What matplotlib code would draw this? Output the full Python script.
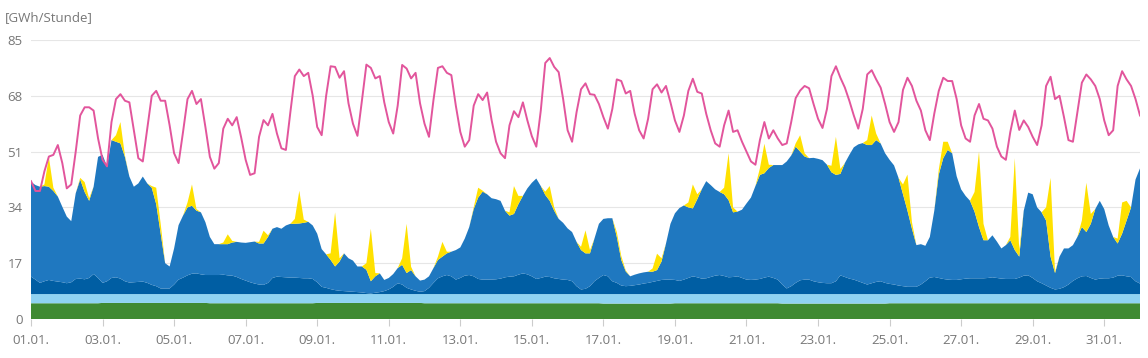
import numpy as np
import matplotlib.pyplot as plt

plt.rcParams['font.family'] = ['Open Sans', 'DejaVu Sans']

# 3-hourly values (00, 03, 06, ... 21 Uhr) for January, last value = 01.02. 00 Uhr
hours = np.arange(0, 745, 3)

verbrauch = [
    42, 39, 39, 45, 49.5, 50, 53, 47.5,          # 01.01.
    39.8, 41, 51, 62, 64.5, 64.5, 63.5, 55,
    48.5, 46.5, 60, 67, 68.5, 66.5, 66, 57.5,
    49, 48, 58, 68, 69.5, 66.5, 66.5, 59,
    50.5, 47.5, 57, 67, 69.5, 65.5, 67, 58.5,     # 05.01.
    49.4, 45.8, 47.5, 58, 61, 59, 61.5, 55.3,
    48.5, 43.9, 44.4, 55.5, 60.6, 59, 62.5, 56.5,
    52, 51.5, 63, 74, 76, 74, 75, 68,
    58.5, 56, 68, 77, 76.8, 73.5, 75.5, 65.7,
    59.5, 55.8, 66.5, 77.5, 76.5, 73.3, 74, 66,   # 10.01.
    60, 56.5, 65, 77.4, 76.3, 73.3, 75, 65.7,
    59.5, 55.5, 66.7, 76.5, 77, 75, 74.3, 65,
    57, 52.5, 54.5, 65, 68.5, 66.7, 69, 60.6,
    54, 50.5, 49, 59, 63.3, 61.5, 66, 60.5,
    55.7, 52.5, 63.5, 78, 79.5, 76.8, 75.2, 67,   # 15.01.
    57.5, 54, 63, 70, 71.8, 68.5, 68.3, 65.5,
    61.5, 58, 64, 73, 72.5, 68.7, 69.5, 62.5,
    57.5, 55, 61, 70, 71.5, 69, 71, 66,
    60.5, 57, 62, 69.5, 73.2, 69.2, 68.7, 62.5,
    57.5, 53.5, 52.5, 59, 63.5, 57, 57.5, 54,     # 20.01.
    51, 48, 47, 54.5, 60, 55, 57.5, 55,
    53, 53.5, 60, 67.3, 69.6, 71, 70.3, 65.5,
    61, 58.2, 64, 74, 77, 73.5, 70.5, 66.5,
    62, 58, 64, 74.5, 75.8, 73, 70.5, 65.5,
    60, 57, 60, 69.8, 73.5, 71, 66.5, 63.5,       # 25.01.
    57.5, 54.5, 62.6, 69.5, 73.5, 72.5, 72.5, 67,
    59, 55, 54, 62, 65.5, 61, 60.5, 58,
    52.5, 49.5, 48.5, 57, 63.5, 57.6, 60.5, 58.5,
    55.5, 53, 59, 71, 73.8, 67, 68, 61.5,
    54.5, 54, 63, 72, 74.5, 73, 71, 67,           # 30.01.
    60.5, 56, 57.5, 71, 75.5, 73, 71, 67,
    62]

wind_onshore = [
    28.9, 28.8, 29.3, 29.0, 28.4, 27.4, 25.9, 23.0,
    20.3, 18.6, 26.1, 30.2, 26.6, 23.5, 26.6, 36.9,
    39.0, 35.0, 42.0, 41.3, 41.2, 37.9, 32.3, 29.1,
    30.0, 32.0, 30.3, 29.6, 25.0, 16.7, 7.7, 6.7,
    11.0, 16.6, 18.9, 20.7, 20.7, 19.1, 18.9, 16.1,
    11.6, 9.4, 9.4, 9.3, 9.5, 10.1, 10.7, 11.1,
    11.5, 12.2, 12.8, 12.5, 12.6, 14.0, 15.0, 15.1,
    14.7, 15.8, 16.4, 16.4, 16.6, 16.9, 17.2, 16.3,
    14.8, 11.5, 10.2, 8.9, 7.2, 8.9, 11.5, 10.1,
    9.5, 7.8, 7.9, 7.1, 3.7, 5.0, 5.7, 3.4,
    3.5, 3.9, 4.6, 6.0, 4.5, 5.9, 4.4, 3.4,
    3.5, 3.5, 4.5, 5.6, 6.0, 6.6, 7.5, 9.0,
    9.3, 11.3, 14.6, 20.5, 24.8, 26.8, 26.0, 24.8,
    24.4, 23.7, 20.3, 18.6, 19.0, 21.5, 23.6, 26.2,
    28.5, 30.6, 28.0, 24.9, 23.2, 20.6, 18.3, 17.3,
    15.7, 15.0, 13.5, 12.0, 10.8, 10.0, 13.0, 16.5,
    17.1, 17.7, 19.2, 14.0, 7.8, 4.5, 2.9, 3.2,
    3.4, 3.4, 3.4, 3.1, 3.3, 5.6, 11.0, 17.0,
    20.3, 22.2, 22.6, 21.5, 20.7, 23.8, 27.2, 29.6,
    28.0, 26.3, 25.3, 24.9, 23.5, 19.7, 19.7, 20.8,
    23.2, 25.1, 28.5, 31.7, 31.8, 33.1, 34.4, 34.9,
    36.4, 38.7, 39.8, 41.5, 39.2, 37.5, 37.0, 37.6,
    37.6, 37.4, 36.1, 33.8, 32.4, 30.9, 34.7, 37.7,
    40.3, 41.7, 42.6, 42.5, 42.1, 43.2, 42.0, 39.5,
    37.8, 36.3, 32.8, 28.0, 23.2, 17.7, 12.7, 12.3,
    10.8, 12.4, 20.2, 31.5, 36.8, 39.5, 38.6, 31.6,
    27.4, 25.2, 23.6, 20.3, 15.6, 11.6, 11.5, 12.8,
    11.1, 9.2, 10.3, 11.8, 8.8, 6.4, 19.8, 25.2,
    25.5, 22.5, 21.6, 19.8, 9.5, 5.0, 9.8, 11.8,
    11.0, 10.9, 12.6, 15.0, 13.4, 16.5, 21.5, 23.7,
    21.1, 16.1, 12.4, 9.8, 12.7, 17.0, 21.2, 31.0,
    35.1]

wind_offshore = [
    5.3, 4.4, 3.4, 3.9, 4.3, 4.0, 3.8, 3.6,
    3.3, 3.6, 4.6, 4.7, 4.5, 4.9, 6.1, 4.9,
    3.4, 3.9, 4.9, 5.1, 4.7, 3.9, 3.5, 3.6,
    3.7, 3.8, 3.4, 2.8, 2.4, 1.7, 1.7, 1.7,
    2.9, 4.4, 5.0, 5.7, 6.2, 6.3, 6.0, 5.8,
    5.8, 5.8, 5.8, 5.9, 5.7, 5.6, 5.2, 4.6,
    4.1, 3.6, 3.2, 2.9, 2.8, 3.4, 4.9, 5.3,
    5.2, 5.1, 5.0, 5.0, 4.9, 4.8, 4.8, 4.6,
    3.6, 2.2, 1.9, 1.5, 1.2, 1.0, 0.9, 0.8,
    0.7, 0.6, 0.5, 0.3, 0.2, 0.4, 0.6, 0.9,
    1.4, 2.2, 3.3, 2.9, 1.9, 1.4, 1.0, 0.7,
    0.9, 1.9, 3.4, 4.8, 5.4, 5.8, 5.4, 4.4,
    4.9, 5.6, 5.8, 5.4, 4.6, 4.4, 4.4, 4.4,
    4.5, 4.7, 5.1, 5.3, 5.4, 5.9, 6.3, 6.0,
    5.4, 4.6, 4.9, 5.3, 5.2, 4.8, 4.6, 4.4,
    4.3, 3.9, 2.4, 1.4, 1.6, 2.4, 3.9, 4.9,
    5.8, 5.4, 3.9, 3.4, 2.6, 2.4, 2.5, 2.7,
    2.9, 3.2, 3.4, 3.7, 4.0, 4.3, 4.4, 4.4,
    4.3, 4.0, 4.4, 4.9, 5.4, 5.1, 4.7, 4.8,
    5.2, 5.6, 5.8, 5.5, 5.1, 5.2, 5.4, 4.9,
    4.4, 4.3, 4.4, 4.6, 5.0, 5.3, 4.9, 4.4,
    2.9, 1.7, 2.4, 3.4, 4.2, 4.4, 4.4, 3.9,
    3.6, 3.4, 3.3, 3.3, 3.9, 5.7, 5.2, 4.7,
    4.4, 3.9, 3.4, 2.9, 3.3, 3.7, 3.9, 3.4,
    3.1, 2.9, 2.6, 2.4, 2.2, 2.2, 2.2, 2.9,
    3.9, 5.0, 5.2, 4.9, 4.6, 4.4, 4.3, 4.3,
    4.5, 4.7, 4.8, 4.8, 4.8, 4.8, 4.9, 5.1,
    4.9, 4.7, 4.6, 4.6, 4.6, 5.0, 5.6, 5.7,
    4.9, 3.9, 3.3, 2.6, 1.9, 1.4, 1.6, 2.1,
    2.9, 4.0, 4.8, 5.4, 5.5, 4.9, 4.4, 4.7,
    4.8, 4.8, 5.0, 5.6, 5.7, 5.4, 5.2, 3.9,
    3.2]

photovoltaik = [
    0, 0, 0, 0.5, 9, 1, 0, 0,
    0, 0, 0, 0.5, 3, 0.8, 0, 0,
    0, 0, 0, 2, 6.5, 0.5, 0, 0,
    0, 0, 0, 0.5, 5, 3, 0, 0,
    0, 0, 0, 1.5, 6.5, 0.5, 0, 0,
    0, 0, 0, 0.5, 3, 0.5, 0, 0,
    0, 0, 0, 0.5, 3.9, 0.5, 0, 0,
    0, 0, 0, 1.5, 10, 1, 0, 0,
    0, 0, 0, 2, 16.5, 1, 0, 0,
    0, 0, 0, 2, 16, 1, 0, 0,
    0, 0, 0, 2, 15, 1, 0, 0,
    0, 0, 0, 1, 4.5, 0.5, 0, 0,
    0, 0, 0, 0.5, 3, 0.3, 0, 0,
    0, 0, 0, 1, 8.5, 2.5, 0, 0,
    0, 0, 0, 1, 4.5, 1, 0, 0,
    0, 0, 0, 1, 7, 1, 0, 0,
    0, 0, 0, 1.5, 1.2, 0.3, 0, 0,
    0, 0, 0, 1, 5, 1, 0, 0,
    0, 0, 0, 1.5, 7.3, 1.5, 0, 0,
    0, 0, 0, 2, 14.3, 1.5, 0, 0,
    0, 0, 0, 2, 9, 1, 0, 0,
    0, 0, 0, 1, 5, 1, 0, 0,
    0, 0, 0, 2, 11.6, 1.5, 0, 0,
    0, 0, 0, 1.5, 9, 2, 0, 0,
    0, 0, 0, 3, 11, 2, 0, 0,
    0, 0, 0, 1.5, 5, 2.5, 0, 0,
    0, 0, 0, 6, 23, 5, 0, 0,
    0, 0, 0, 1, 28, 2, 0, 0,
    0, 0, 0, 4, 24, 0.5, 0, 0,
    0, 0, 0, 2, 15, 3, 0, 0,
    0, 0, 0, 1.5, 9.5, 6, 0, 0,
    0]

# daily values
biomasse_tag = [4.8, 4.8, 4.9, 4.9, 4.9, 4.8, 4.8, 4.8, 4.9, 4.9, 4.9, 4.8, 4.8, 4.8, 4.8, 4.8,
                4.7, 4.7, 4.8, 4.8, 4.8, 4.7, 4.7, 4.7, 4.8, 4.8, 4.8, 4.8, 4.8, 4.8, 4.8]
wasser_tag = [2.8, 2.8, 2.7, 2.7, 2.7, 2.8, 2.8, 2.8, 2.7, 2.7, 2.7, 2.8, 2.8, 2.8, 2.8, 2.8,
              2.9, 2.9, 2.8, 2.8, 2.8, 2.9, 2.9, 2.9, 2.8, 2.8, 2.8, 2.8, 2.8, 2.8, 2.8]

ticklabels = ['%02d.01.' % d for d in range(1, 32, 2)]

biomasse = np.append(np.repeat(biomasse_tag, 8), biomasse_tag[-1])
wasser = np.append(np.repeat(wasser_tag, 8), wasser_tag[-1])
x = hours / 24.0

fig = plt.figure(figsize=(11.48, 3.58), dpi=100)
ax = fig.add_axes([31 / 1148, 1 - 319 / 358, 1109 / 1148, 279 / 358])

ax.stackplot(x, biomasse, wasser, wind_offshore, wind_onshore, photovoltaik,
             colors=['#3f8a32', '#8fd3f2', '#005ea3', '#1f78c0', '#ffe100'],
             linewidth=0)
ax.plot(x, verbrauch, color='#e2559c', lw=1.4, solid_joinstyle='round')

ax.set_xlim(0, 31)
ax.set_ylim(0, 85)
ax.set_yticks([0, 17, 34, 51, 68, 85])
ax.set_xticks(range(0, 31, 2))
ax.set_xticklabels(ticklabels)
ax.grid(axis='y', color='#e6e6e6', lw=0.8)
ax.set_axisbelow(True)
for s in ax.spines.values():
    s.set_visible(False)
ax.tick_params(axis='y', length=0, pad=6, labelsize=9.5, labelcolor='#777777')
ax.tick_params(axis='x', length=5, width=0.8, color='#cccccc', pad=6,
               labelsize=9.5, labelcolor='#777777')

fig.text(5 / 1148, 1 - 18 / 358, '[GWh/Stunde]', fontsize=9.5, color='#777777',
         va='center', ha='left')

fig.savefig('out.png', dpi=100)
